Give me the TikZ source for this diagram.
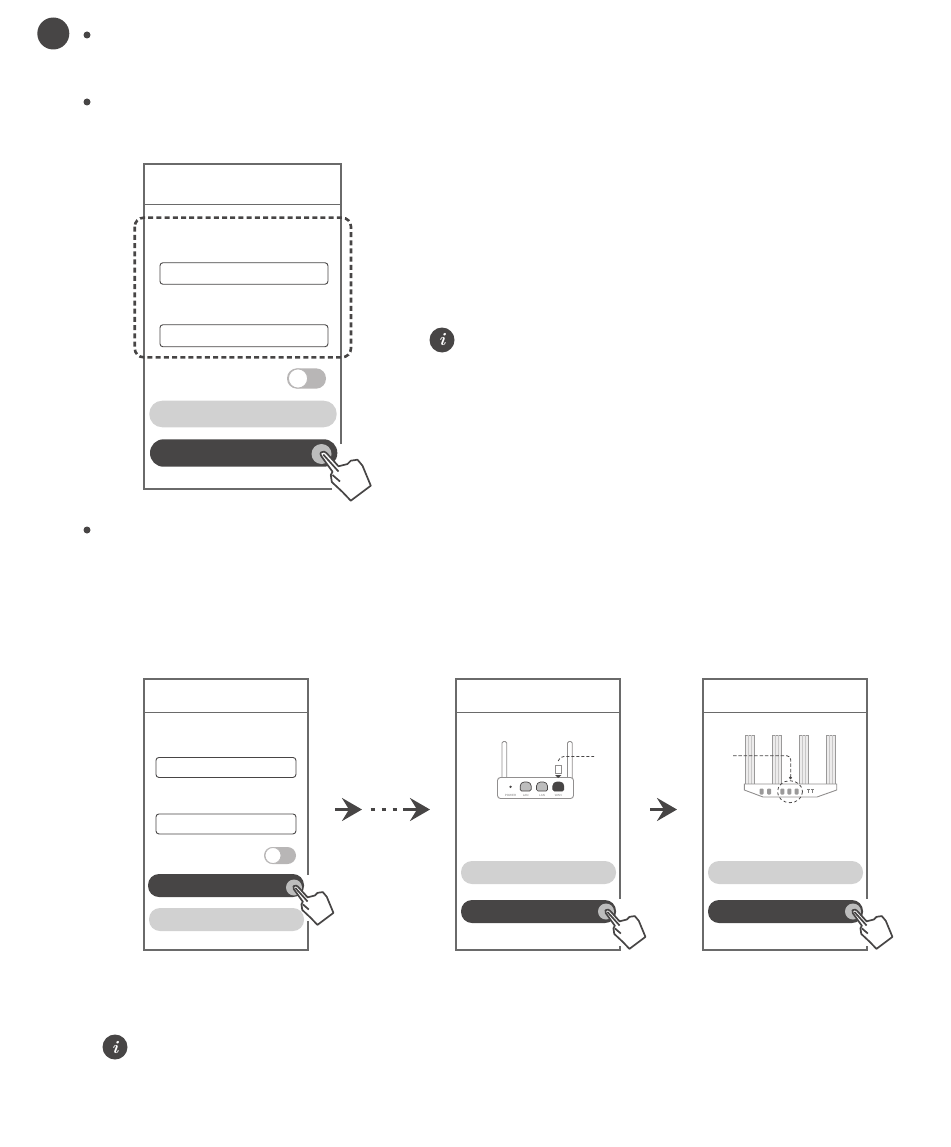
\documentclass[tikz,border=0pt]{standalone}
\usepackage{fontspec}
\usepackage{tikz}
\usetikzlibrary{arrows.meta,calc}
\newfontfamily\portfont{Liberation Sans}
\definecolor{ink}{HTML}{474545}
\definecolor{framegray}{HTML}{6A6A6A}
\definecolor{btnlight}{HTML}{D1D1D1}
\definecolor{togglegray}{HTML}{B8B6B6}
\definecolor{tapgray}{HTML}{BDBDBD}

\begin{document}
\begin{tikzpicture}[
  x=1pt, y=-1pt,
  screenframe/.style={draw=framegray, line width=1.7pt},
  headerline/.style={draw=framegray, line width=0.9pt},
  entryfield/.style={draw=ink, fill=white, line width=0.9pt, rounded corners=3pt},
  selectbox/.style={draw=ink, line width=2.6pt, dash pattern=on 5pt off 3.2pt, rounded corners=9pt},
  lightbtn/.style={fill=btnlight, rounded corners=11pt},
  darkbtn/.style={fill=ink, rounded corners=11pt},
  bulletdot/.style={circle, fill=ink, inner sep=0pt, minimum size=7pt},
  infoicon/.style={circle, fill=ink, text=white, inner sep=0pt, minimum size=25pt, font=\fontsize{18}{18}\selectfont\bfseries\itshape},
  portlab/.style={font=\portfont\fontsize{3}{3}\selectfont, text=ink!70, inner sep=0pt},
  flowarrow/.style={draw=ink, line width=3.4pt, -{Stealth[length=20pt,width=23pt,inset=7pt]}},
  thinline/.style={draw=ink!60, line width=0.9pt},
  hand/.pic={
    \fill[tapgray] (0,0) circle[radius=10];
    \draw[draw=ink, fill=white, line width=1.7pt, line join=round]
      (-0.6,-1.6) .. controls (1.5,-3) and (4,-2.5) .. (5,-1)
      -- (17,12.3) -- (26,10) -- (29.3,6.7) -- (36,5.7) -- (41,11.7)
      -- (49.3,31.7) -- (29.3,46.7) -- (21,38) -- (10.3,28) -- (9.3,21) -- (11,17.7)
      -- (-0.3,2) .. controls (-1.2,0.6) and (-1.2,-0.8) .. cycle;
    \draw[draw=ink, line width=1.7pt] (1.8,0.6) -- (17,17.5);
    \draw[draw=ink, line width=1.7pt] (11,21) -- (18.5,27.5);
  }
]
  \useasboundingbox (0,0) rectangle (950,1147);

  % step mark and bullets
  \node[circle, fill=ink, inner sep=0pt, minimum size=32pt] (stepmark) at (53.3,33.5) {};
  \foreach \n/\y in {a/35,b/102,c/530} {
    \node[bulletdot] (bullet\n) at (87,\y) {};
  }

  % large login screen
  \draw[screenframe] (341,444) |- (144,164) |- (332,489);
  \draw[headerline] (144,204) -- (341,204);
  \node[entryfield, anchor=north west, minimum width=168pt, minimum height=21.5pt] (userfield) at (159.5,262.3) {};
  \node[entryfield, anchor=north west, minimum width=168pt, minimum height=22pt] (passfield) at (159.5,324.3) {};
  \draw[selectbox] (134.7,217.7) rectangle (351,357.3);
  \fill[togglegray, rounded corners=10pt] (287,368.3) rectangle (326,388.7);
  \draw[draw=togglegray, fill=white, line width=0.9pt] (298,378.5) circle[radius=9.6];
  \fill[lightbtn, rounded corners=13pt] (149.3,400.7) rectangle (336.7,427.3);
  \fill[darkbtn, rounded corners=13.5pt] (150,439.3) rectangle (337.3,466.7);
  \pic at (321.5,454) {hand};

  % three smaller screens
  \foreach \L/\R/\G/\H in {144/308/875/921, 456/620/899/946, 703/867/899/946} {
    \draw[screenframe] (\R,\H) -- (\R,950) -- (\L,950) -- (\L,679) -- (\R,679) -- (\R,\G);
    \draw[headerline] (\L,712) -- (\R,712);
  }

  % first small screen
  \node[entryfield, anchor=north west, minimum width=140pt, minimum height=20pt] (userfieldb) at (155.5,757) {};
  \node[entryfield, anchor=north west, minimum width=140pt, minimum height=20pt] (passfieldb) at (155.5,813.5) {};
  \fill[togglegray, rounded corners=8.5pt] (264,847) rectangle (296,864);
  \draw[draw=togglegray, fill=white, line width=0.8pt] (273,855.5) circle[radius=8];
  \fill[darkbtn] (148,874) rectangle (304,897);
  \fill[lightbtn] (149,908) rectangle (304,931);
  \pic[scale=0.8] at (294,887.5) {hand};

  % buttons of the other two screens
  \foreach \L/\R in {461/616, 708/863} {
    \fill[lightbtn] (\L,861) rectangle (\R,884);
    \fill[darkbtn] (\L,900) rectangle (\R,923);
    \pic[scale=0.8] at ($(\R,911.5)+(-10,0)$) {hand};
  }

  % flow arrows
  \coordinate (arrowa) at (335,809.5);
  \coordinate (dotsa) at (370.5,809.5);
  \coordinate (dotsb) at (399,809.5);
  \coordinate (arrowb) at (403,809.5);
  \coordinate (arrowc) at (650,809.5);
  \draw[flowarrow] (arrowa) -- ++(27,0);
  \draw[draw=ink, line width=3.4pt, dash pattern=on 4pt off 7pt] (dotsa) -- (dotsb);
  \draw[flowarrow] (arrowb) -- ++(27,0);
  \draw[flowarrow] (arrowc) -- ++(27,0);

  % router with two antennas
  \foreach \a in {502,567.5} {
    \draw[thinline, fill=white, rounded corners=1.5pt] (\a,778) -- (\a,741.5) -- (\a+4.7,741.5) -- (\a+4.7,778);
  }
  \draw[thinline, fill=white, rounded corners=3pt] (497.5,777.5) rectangle (573.5,798.5);
  \foreach \x/\c/\t/\n in {525.7/tapgray/LAN/lana, 542/tapgray/LAN/lanb, 558.3/ink/WAN/wan} {
    \draw[draw=ink, fill=\c, line width=0.7pt, rounded corners=1.5pt] (\x-5.5,791) -- (\x-5.5,784.5) -- (\x-3,782) -- (\x+3,782) -- (\x+5.5,784.5) -- (\x+5.5,791) -- cycle;
    \node[portlab] (\n) at (\x,795.4) {\t};
  }
  \node[portlab] (powerlab) at (510.5,795.4) {POWER};
  \fill[ink] (510.5,786.8) circle[radius=1.3];
  \draw[thinline, fill=white] (555,765.5) rectangle (561.5,773);
  \fill[ink] (555,775) -- (561.5,775) -- (558.2,778) -- cycle;
  \draw[draw=ink, line width=0.8pt, dash pattern=on 3pt off 2pt, rounded corners=3pt] (558.2,761) -- (561,756.5) -- (594,756.5);

  % router with four antennas
  \foreach \x in {750,777,804,831} {
    \draw[draw=ink!55, fill=ink!10, line width=0.7pt] (\x-4.5,735) rectangle (\x+4.5,784);
    \draw[draw=ink!30, line width=0.5pt] (\x-2,735) -- (\x-2,784);
    \draw[draw=ink!30, line width=0.5pt] (\x+1,735) -- (\x+1,784);
  }
  \draw[thinline, fill=white] (744.3,784) -- (836.7,784) -- (836.7,790) -- (817,797) -- (763,797) -- (744.3,790) -- cycle;
  \foreach \x in {761.7,769,782.3,789.3,796.7} {
    \fill[ink!55, rounded corners=1pt] (\x-2,788.5) rectangle (\x+2,794.5);
  }
  \draw[draw=ink!70, line width=0.6pt] (807,789.5) -- (810,789.5) (808.5,789.5) -- (808.5,793) (811,789.5) -- (814,789.5) (812.5,789.5) -- (812.5,793);
  \draw[draw=ink, line width=0.8pt, dash pattern=on 3pt off 2.5pt] (790,791.7) ellipse[x radius=12.5, y radius=11];
  \fill[ink] (790.5,777.7) circle[radius=1.6];
  \draw[draw=ink, line width=0.8pt, dash pattern=on 3.5pt off 1.8pt, rounded corners=4pt] (733,755.7) -- (790.7,755.7) -- (790.7,776);

  % info icons
  \node[infoicon] (infotop) at (442,340) {i};
  \node[infoicon] (infobottom) at (115,1047) {i};
\end{tikzpicture}
\end{document}
